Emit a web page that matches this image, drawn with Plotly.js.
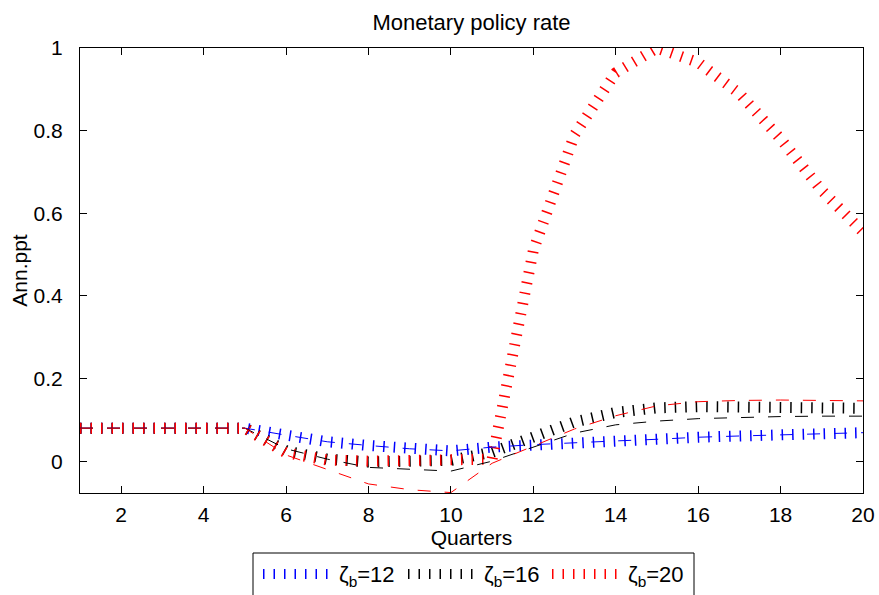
<!DOCTYPE html>
<html><head><meta charset="utf-8">
<script src="https://cdn.plot.ly/plotly-3.0.1.min.js"></script>
<style>html,body{margin:0;padding:0;background:#fff;}#chart{width:879px;height:595px;}</style>
</head><body><div id="chart"></div>
<script>
// ---- data ----
const quarters = [1,2,3,4,5,6,7,8,9,10,11,12,13,14,15,16,17,18,19,20];

// zeta_b = 12 (blue)
const zeta12Dotted = [0.08,0.08,0.08,0.08,0.08,0.063,0.047,0.038,0.030,0.025,0.034,0.040,0.045,0.049,0.053,0.058,0.061,0.064,0.067,0.069];
const zeta12Dashed = [0.08,0.08,0.08,0.08,0.08,0.063,0.047,0.038,0.030,0.025,0.034,0.040,0.045,0.049,0.053,0.058,0.061,0.064,0.067,0.069];
// zeta_b = 16 (black)
const zeta16Dotted = [0.08,0.08,0.08,0.08,0.08,0.025,0.005,-0.002,-0.002,0.002,0.022,0.060,0.095,0.118,0.129,0.132,0.132,0.131,0.130,0.128];
const zeta16Dashed = [0.08,0.08,0.08,0.08,0.08,0.030,0.005,-0.015,-0.020,-0.024,0.000,0.034,0.068,0.088,0.097,0.103,0.106,0.108,0.109,0.109];
// zeta_b = 20 (red)
const zeta20Dotted = [0.08,0.08,0.08,0.08,0.08,0.020,0.003,0.000,0.000,0.000,0.005,0.51,0.79,0.94,1.0,0.965,0.89,0.78,0.655,0.555];
const zeta20Dashed = [0.08,0.08,0.08,0.08,0.08,0.015,-0.020,-0.055,-0.069,-0.076,-0.005,0.036,0.078,0.110,0.134,0.144,0.147,0.148,0.147,0.146];

const legendLabels = ['ζ<sub>b</sub>=12','ζ<sub>b</sub>=16','ζ<sub>b</sub>=20'];
const seriesColors = ['#0000FF','#000000','#FF0000'];
const xTickVals = [2,4,6,8,10,12,14,16,18,20];
const yTickVals = [0,0.2,0.4,0.6,0.8,1];
const yTickText = ['0','0.2','0.4','0.6','0.8','1'];

// ---- styles ----
const FONT = 'Liberation Sans, Arial, Helvetica, sans-serif';
const TICKDASH = '1.5px,9px';
const TICKWIDTH = 11;
const DASH = '13px,14px';

const dotted = [zeta12Dotted, zeta16Dotted, zeta20Dotted];
const dashed = [zeta12Dashed, zeta16Dashed, zeta20Dashed];

const traces = [];
for (let i = 0; i < 3; i++) {
  traces.push({x: quarters, y: dotted[i], type: 'scatter', mode: 'lines', name: legendLabels[i],
    showlegend: false, line: {color: seriesColors[i], width: TICKWIDTH, dash: TICKDASH}});
}
for (let i = 0; i < 3; i++) {
  traces.push({x: quarters, y: dashed[i], type: 'scatter', mode: 'lines', showlegend: false,
    line: {color: seriesColors[i], width: 1, dash: DASH}});
}

// custom legend (paper coordinates), box matches reference
const L = 80, R = 16, T = 48, B = 102, W = 879, H = 595;
const pw = W - L - R, ph = H - T - B;
const px2x = p => (p - L) / pw;
const py2y = p => (H - B - p) / ph;

const shapes = [{type: 'rect', xref: 'paper', yref: 'paper', x0: px2x(253), x1: px2x(694), y0: py2y(553), y1: py2y(610),
  line: {color: '#000', width: 1}, fillcolor: 'rgba(255,255,255,1)', layer: 'above'}];
const annotations = [];
const sampleStarts = [263, 408, 552];
for (let i = 0; i < 3; i++) {
  shapes.push({type: 'line', xref: 'paper', yref: 'paper', x0: px2x(sampleStarts[i]), x1: px2x(sampleStarts[i] + 65),
    y0: py2y(574), y1: py2y(574), line: {color: seriesColors[i], width: 10, dash: TICKDASH}, layer: 'above'});
  annotations.push({xref: 'paper', yref: 'paper', x: px2x(sampleStarts[i] + 74), y: py2y(576), xanchor: 'left', yanchor: 'middle',
    text: legendLabels[i], showarrow: false, font: {family: FONT, size: 22, color: '#000'}});
}

const layout = {
  width: W, height: H,
  margin: {l: L, r: R, t: T, b: B, autoexpand: false},
  paper_bgcolor: '#fff', plot_bgcolor: '#fff',
  font: {family: FONT, size: 21, color: '#000'},
  title: {text: 'Monetary policy rate', font: {family: FONT, size: 22, color: '#000'},
    x: 0.5, xref: 'paper', y: 1 - 22 / H, yref: 'container', yanchor: 'middle'},
  showlegend: false,
  xaxis: {range: [1, 20], tickvals: xTickVals, ticks: 'inside', ticklen: 7, tickwidth: 1, tickcolor: '#000',
    showline: true, linecolor: '#000', linewidth: 1, mirror: 'ticks', showgrid: false, zeroline: false,
    ticklabelstandoff: 3, tickfont: {family: FONT, size: 21, color: '#000'},
    title: {text: 'Quarters', font: {family: FONT, size: 21}, standoff: 4}},
  yaxis: {range: [-0.077, 1], tickvals: yTickVals, ticktext: yTickText, ticks: 'inside', ticklen: 7, tickwidth: 1, tickcolor: '#000',
    showline: true, linecolor: '#000', linewidth: 1, mirror: 'ticks', showgrid: false, zeroline: false,
    ticklabelstandoff: 12, tickfont: {family: FONT, size: 21, color: '#000'},
    title: {text: 'Ann.ppt', font: {family: FONT, size: 21}, standoff: 0}},
  shapes: shapes,
  annotations: annotations
};

Plotly.newPlot('chart', traces, layout, {staticPlot: true, displayModeBar: false});
</script>
</body></html>
